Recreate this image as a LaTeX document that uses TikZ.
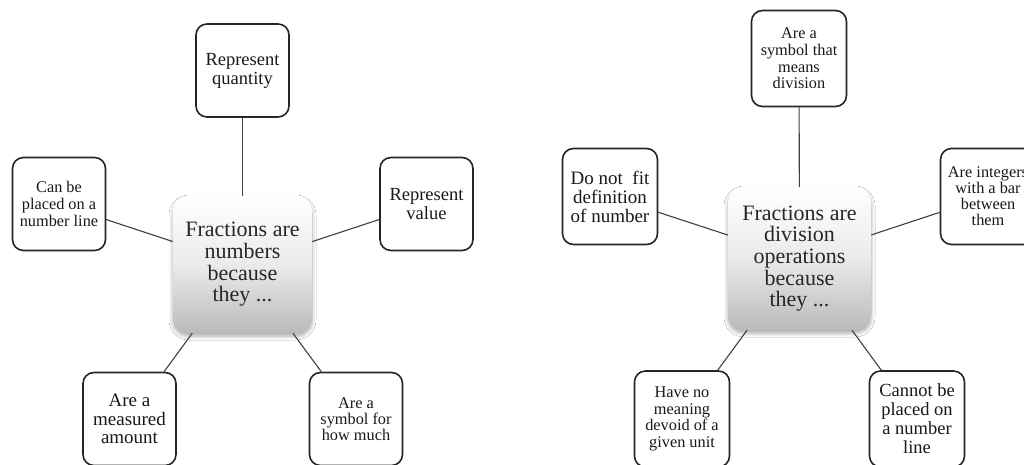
\documentclass[tikz,border=0pt]{standalone}
\usepackage{fontspec}
\setmainfont{Liberation Serif}
\usetikzlibrary{shadows.blur}

\newcommand{\fs}[2]{\fontsize{#1}{#2}\selectfont}

\tikzset{
  leaf/.style={draw=black!85, line width=1.6pt, rounded corners=11pt, fill=white,
    minimum width=93pt, minimum height=93pt, inner sep=1pt, align=center,
    text=black!90},
  hub/.style={rounded corners=16pt, top color=white, bottom color=black!27,
    middle color=black!8, align=center, inner sep=1pt, text=black!85,
    font=\fs{22}{21.7},
    blur shadow={shadow xshift=0pt, shadow yshift=-3pt, shadow blur steps=6,
      shadow blur radius=4pt, shadow opacity=35}},
  link/.style={draw=black!75, line width=1.1pt},
}

\begin{document}
\begin{tikzpicture}[x=1pt, y=-1pt]
\useasboundingbox (0,0) rectangle (1024,465);
\clip (0,0) rectangle (1024,465);
\fill[white] (0,0) rectangle (1024,465);

% ---- numbers diagram ----
\node[hub, minimum width=139pt, minimum height=137pt] (n0) at (242.5,264.5)
  {Fractions are\\numbers\\because\\they ...};
\node[leaf, font=\fs{18.5}{19}]   (n1) at (242.5,70.5) {Represent\\quantity};
\node[leaf, font=\fs{18.5}{19}]   (n2) at (426.5,204)  {Represent\\value};
\node[leaf, font=\fs{16.3}{16.3}] (n3) at (356,419)    {Are a\\symbol for\\how much};
\node[leaf, font=\fs{19}{18.3}]   (n4) at (129.5,419)  {Are a\\measured\\amount};
\node[leaf, font=\fs{16.3}{16.7}] (n5) at (59,204)     {Can be\\placed on a\\number line};
\foreach \k in {1,...,5} \draw[link] (n0) -- (n\k);

% ---- division diagram ----
\node[hub, minimum width=143pt, minimum height=143pt] (d0) at (799.5,258.5)
  {Fractions are\\division\\operations\\because\\they ...};
\node[leaf, minimum width=95pt, minimum height=96pt, font=\fs{16.3}{16.7}] (d1) at (799,58.5)
  {Are a\\symbol that\\means\\division};
\node[leaf, minimum width=95pt, minimum height=96pt, font=\fs{16.3}{16}] (d2) at (988,196.5)
  {Are integers\\with a bar\\between\\them};
\node[leaf, minimum width=95pt, minimum height=96pt, font=\fs{18.5}{19}] (d3) at (917,419)
  {Cannot be\\placed on\\a number\\line};
\node[leaf, minimum width=95pt, minimum height=96pt, font=\fs{16.3}{16.7}] (d4) at (682,419)
  {Have no\\meaning\\devoid of a\\given unit};
\node[leaf, minimum width=95pt, minimum height=96pt, font=\fs{19}{19}] (d5) at (610,196.5)
  {Do not\ \ fit\\definition\\of number};
\foreach \k in {1,...,5} \draw[link] (d0) -- (d\k);
\end{tikzpicture}
\end{document}
